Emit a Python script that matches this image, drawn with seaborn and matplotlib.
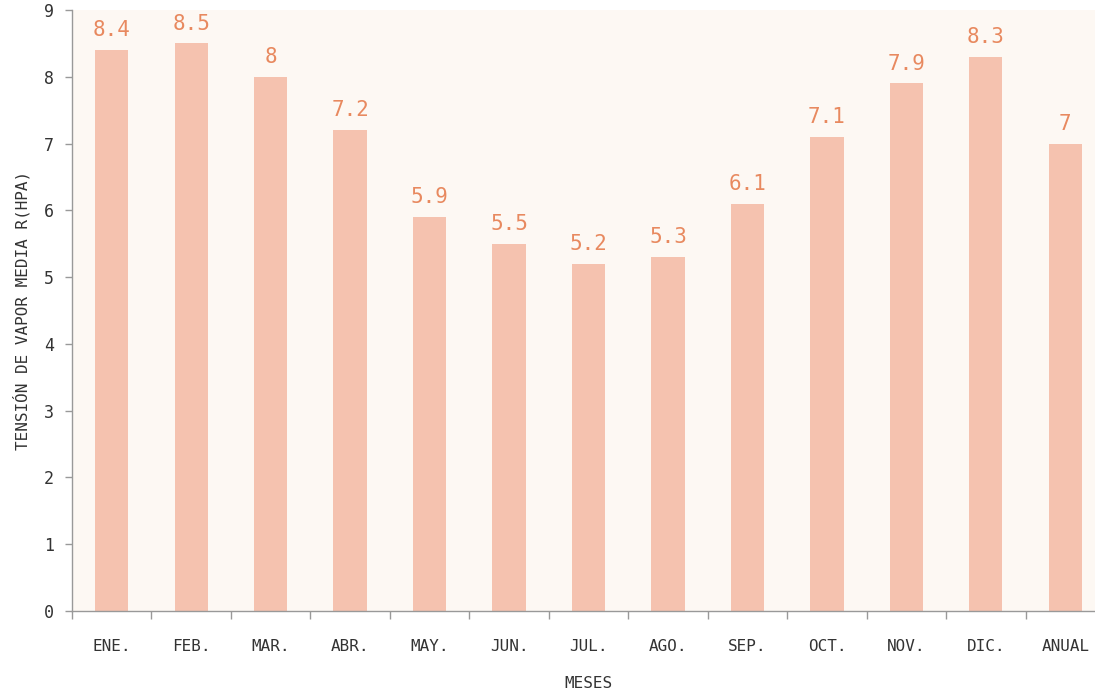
import matplotlib
matplotlib.use("Agg")
import matplotlib.pyplot as plt
import seaborn as sns
import pandas as pd
import numpy as np

months = ["Ene.", "Feb.", "Mar.", "Abr.", "May.", "Jun.", "Jul.", "Ago.",
          "Sep.", "Oct.", "Nov.", "Dic.", "Anual"]
values = [8.4, 8.5, 8, 7.2, 5.9, 5.5, 5.2, 5.3, 6.1, 7.1, 7.9, 8.3, 7]
value_labels = ["8.4", "8.5", "8", "7.2", "5.9", "5.5", "5.2", "5.3", "6.1", "7.1", "7.9", "8.3", "7"]
y_ticks = [0, 1, 2, 3, 4, 5, 6, 7, 8, 9]

sns.set_style("ticks")
plt.rcParams['font.family'] = ['DejaVu Sans']
mono = ['DejaVu Sans Mono', 'DejaVu Sans']

df = pd.DataFrame({"mes": months, "valor": values})

fig = plt.figure(figsize=(10.95, 6.93), dpi=100)
ax = fig.add_axes([72/1095, 82/693, 1033/1095, 601/693])
ax.set_facecolor("#fdf8f3")

sns.barplot(data=df, x="mes", y="valor", color="#f5c2af", saturation=1,
            width=0.42, ax=ax, zorder=2, linewidth=0, edgecolor="none")

ax.set_ylim(0, 9)
ax.set_xlim(-0.5, len(months) - 0.5)
ax.set_yticks(y_ticks)
ax.set_yticklabels([str(t) for t in y_ticks], fontsize=12, color="#333333",
                   family=mono)

ax.set_xticks(range(len(months)))
ax.set_xticklabels([m.upper() for m in months], fontsize=11.5, color="#333333",
                   family=mono)
ax.tick_params(axis="x", which="major", length=0, pad=20)
ax.set_xticks(np.arange(-0.5, len(months) - 0.5, 1), minor=True)
ax.tick_params(axis="x", which="minor", length=6, color="#999999", width=1)
ax.tick_params(axis="y", length=5, color="#999999", width=1, pad=8)

for s in ["top", "right"]:
    ax.spines[s].set_visible(False)
for s in ["left", "bottom"]:
    ax.spines[s].set_color("#999999")
    ax.spines[s].set_linewidth(1)

ax.bar_label(ax.containers[0], labels=value_labels, padding=7,
             fontsize=15, color="#e8895f", family=mono)

ax.set_xlabel("MESES", fontsize=11.5, color="#333333", labelpad=16, family=mono)
ax.set_ylabel("TENSIÓN DE VAPOR MEDIA R(HPA)", fontsize=11.5, color="#333333",
              labelpad=10, family=mono)

fig.savefig("out.png", dpi=100, facecolor="white")
